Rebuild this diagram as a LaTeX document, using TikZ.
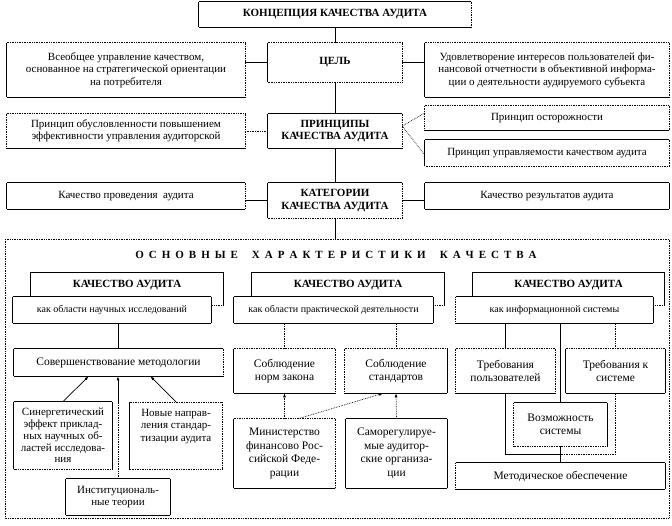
\documentclass[tikz,border=0pt]{standalone}
\usepackage{fontspec}
\setmainfont{Liberation Serif}
\usetikzlibrary{arrows.meta}

\newcommand\fmain{\fontsize{11}{12.5}\selectfont}
\newcommand\fsmall{\fontsize{10}{12}\selectfont}
\newcommand\fcol{\fontsize{11.5}{13.5}\selectfont}
\newcommand\fcolsm{\fontsize{11}{11.8}\selectfont}
\newcommand\ls{\hspace{5pt}}
\newcommand\spaced[1]{\spacedi#1\relax}
\def\spacedi#1{\ifx#1\relax\else#1\ls\expandafter\spacedi\fi}

\tikzset{
  bx/.style 2 args={minimum width=#1, minimum height=#2, inner sep=2pt,
    align=center, fill=white, font=\fmain},
  fr/.style n args={4}{append after command={
    (\tikzlastnode.north west) edge[#1] (\tikzlastnode.north east)
    (\tikzlastnode.north east) edge[#2] (\tikzlastnode.south east)
    (\tikzlastnode.south east) edge[#3] (\tikzlastnode.south west)
    (\tikzlastnode.south west) edge[#4] (\tikzlastnode.north west)}},
  sol/.style={fr={solid}{solid}{solid}{solid}},
  dt/.style={densely dotted},
  hdr/.style={font=\fmain\bfseries},
  tt/.style 2 args={text height=#1, text depth=#2},
  arr/.style={-{Latex[length=4pt,width=3pt]}},
}

\begin{document}
\begin{tikzpicture}[x=1pt, y=-1pt, line width=0.7pt]
  \useasboundingbox (0,0) rectangle (672,526);

  % upper part
  \node[bx={272pt}{25pt}, hdr, fr={solid}{dt}{solid}{solid}] (concept) at (335,14.5) {КОНЦЕПЦИЯ КАЧЕСТВА АУДИТА};
  \node[bx={134pt}{39pt}, hdr, fr={dt}{dt}{dt}{solid}] (goal) at (335,62.5) {ЦЕЛЬ};
  \node[bx={238pt}{54pt}, fr={dt}{dt}{solid}{solid}] (total) at (126,70)
    {Всеобщее управление качеством,\\основанное на стратегической ориентации\\на потребителя};
  \node[bx={244pt}{54pt}, fr={dt}{dt}{solid}{solid}] (satisf) at (547,70)
    {Удовлетворение интересов пользователей фи-\\нансовой отчетности в объективной информа-\\ции о деятельности аудируемого субъекта};

  \node[bx={134pt}{34pt}, hdr, fr={solid}{dt}{solid}{solid}] (prin) at (335,131) {ПРИНЦИПЫ\\КАЧЕСТВА АУДИТА};
  \node[bx={238pt}{34pt}, fr={dt}{dt}{solid}{dt}] (prinL) at (126,131)
    {Принцип обусловленности повышением\\эффективности управления аудиторской};
  \node[bx={244pt}{24pt}, fr={dt}{dt}{solid}{dt}] (prinR1) at (547,118) {Принцип осторожности};
  \node[bx={244pt}{26pt}, fr={solid}{dt}{dt}{solid}] (prinR2) at (547,153) {Принцип управляемости качеством аудита};

  \node[bx={134pt}{35pt}, hdr, fr={solid}{dt}{dt}{solid}] (cat) at (335,200.5) {КАТЕГОРИИ\\КАЧЕСТВА АУДИТА};
  \node[bx={238pt}{26pt}, fr={solid}{dt}{solid}{solid}] (catL) at (126,196) {Качество проведения\ \ аудита};
  \node[bx={244pt}{26pt}, sol] (catR) at (547,196) {Качество результатов аудита};

  \draw (concept) -- (goal);
  \draw (goal) -- (prin);
  \draw (prin) -- (cat);
  \coordinate (ftop) at (335,239);
  \draw (cat) -- (ftop);
  \draw (goal.west) -- (goal.west -| total.east);
  \draw (goal.east) -- (goal.east -| satisf.west);
  \draw[dt] (prin.west) -- (prin.west -| prinL.east);
  \draw[dt] ([yshift=5pt]prin.east) -- ([yshift=5pt]prinR1.west);
  \draw[dt] ([yshift=5pt]prin.east) -- ([yshift=-2pt]prinR2.west);
  \draw (cat.west) -- (cat.west -| catL.east);
  \draw (cat.east) -- (cat.east -| catR.west);

  % main characteristics
  \draw[dt] (5,239) rectangle (669,518);
  \node[font=\fmain\bfseries] (title) at (336,255)
    {\spaced{ОСНОВНЫЕ}\hspace{9pt}\spaced{ХАРАКТЕРИСТИКИ}\hspace{9pt}\spaced{КАЧЕСТВА}};

  % column 1
  \node[bx={192pt}{33pt}, hdr, tt={13pt}{16pt}, anchor=north, fr={solid}{solid}{dt}{solid}] (back1) at (127,272) {КАЧЕСТВО АУДИТА};
  \node[bx={198pt}{26pt}, font=\fsmall, sol] (front1) at (112,310) {как области научных исследований};
  \node[bx={209pt}{27pt}, font=\fcol, fr={solid}{dt}{solid}{solid}] (meth) at (118.5,362.5) {Совершенствование методологии};
  \node[bx={98pt}{67pt}, font=\fcolsm, fr={solid}{solid}{dt}{solid}] (syn) at (63,435.5)
    {Синергетический\\эффект приклад-\\ных научных об-\\ластей исследова-\\ния};
  \node[bx={92pt}{67pt}, font=\fmain, tt={37pt}{26pt}, anchor=north, fr={dt}{dt}{dt}{solid}] (new) at (176,402)
    {Новые направ-\\ления стандар-\\тизации аудита};
  \node[bx={104pt}{36pt}, font=\fmain, sol] (inst) at (118,497) {Институциональ-\\ные теории};

  \draw (meth.north) -- (meth.north |- front1.south);
  \draw[arr] (syn.north) -- ([xshift=-30pt]meth.south);
  \coordinate (c1) at (inst.north |- syn.north);
  \draw[dt] (inst.north) -- (c1);
  \draw[arr] (c1) -- (c1 |- meth.south);
  \draw[arr] (new.north) -- ([xshift=32pt]meth.south);

  % column 2
  \node[bx={192pt}{33pt}, hdr, tt={13pt}{16pt}, anchor=north, fr={solid}{solid}{dt}{solid}] (back2) at (348,272) {КАЧЕСТВО АУДИТА};
  \node[bx={199pt}{26pt}, font=\fsmall, sol] (front2) at (333.5,310) {как области практической деятельности};
  \node[bx={101pt}{44pt}, font=\fcol, fr={dt}{dt}{solid}{solid}] (law) at (284.5,371) {Соблюдение\\норм закона};
  \node[bx={102pt}{44pt}, font=\fcol, fr={dt}{solid}{solid}{dt}] (std) at (396,371) {Соблюдение\\стандартов};
  \node[bx={101pt}{69pt}, font=\fcol, fr={dt}{dt}{solid}{solid}] (minf) at (284.5,453.5)
    {Министерство\\финансово Рос-\\сийской Феде-\\рации};
  \node[bx={101pt}{69pt}, font=\fcol, sol] (sro) at (396.5,453.5)
    {Саморегулируе-\\мые аудитор-\\ские организа-\\ции};

  \draw[dt] (law.north) -- (law.north |- front2.south);
  \draw[dt] (std.north) -- (std.north |- front2.south);
  \draw[dt, arr] (minf.north) -- (law.south);
  \draw[dt, arr] ([xshift=14pt]minf.north) -- ([xshift=-13pt]std.south);
  \draw[dt, arr] (sro.north) -- (std.south);

  % column 3
  \node[bx={191pt}{33pt}, hdr, tt={13pt}{16pt}, anchor=north, fr={solid}{solid}{dt}{solid}] (back3) at (568.5,272) {КАЧЕСТВО АУДИТА};
  \node[bx={197pt}{26pt}, font=\fsmall, fr={solid}{solid}{solid}{dt}] (front3) at (554.5,310) {как информационной системы};
  \node[bx={99pt}{44pt}, font=\fcol, fr={dt}{dt}{solid}{dt}] (users) at (505.5,371) {Требования\\пользователей};
  \node[bx={99pt}{44pt}, font=\fcol, fr={dt}{solid}{solid}{solid}] (sysreq) at (615.5,371) {Требования к\\системе};
  \node[bx={93pt}{43pt}, font=\fcol, fr={solid}{solid}{dt}{dt}] (abil) at (560.5,424.5) {Возможность\\системы};
  \node[bx={209pt}{26pt}, font=\fcol, fr={solid}{solid}{solid}{dt}] (mso) at (560.5,476) {Методическое обеспечение};

  \draw (users.north) -- (users.north |- front3.south);
  \draw (abil.north) -- (abil.north |- front3.south);
  \draw[dt] (sysreq.north) -- (sysreq.north |- front3.south);
  \coordinate (bl) at (505.5,454);
  \coordinate (br) at (615.5,454);
  \draw (users.south) -- (bl) -- (bl -| abil.south);
  \draw[dt] (bl -| abil.south) -- (br) -- (sysreq.south);
  \draw (abil.south) -- (mso.north);
\end{tikzpicture}
\end{document}
